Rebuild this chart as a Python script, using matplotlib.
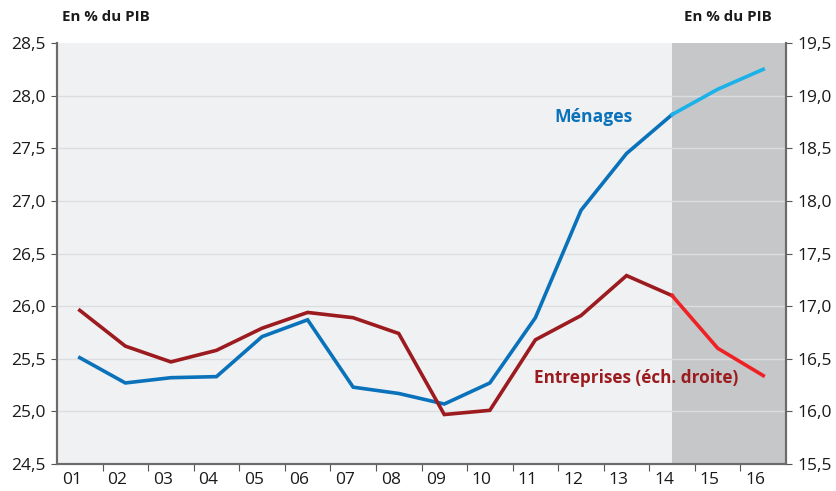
import matplotlib.pyplot as plt
import matplotlib.transforms as mtransforms
from matplotlib.ticker import FuncFormatter, MultipleLocator

# Épargne en % du PIB, 2001-2016 (15 et 16 : prévisions)
years = ["01", "02", "03", "04", "05", "06", "07", "08",
         "09", "10", "11", "12", "13", "14", "15", "16"]
menages = [25.51, 25.27, 25.32, 25.33, 25.71, 25.87, 25.23, 25.17,
           25.07, 25.27, 25.89, 26.91, 27.45, 27.82, 28.06, 28.25]
entreprises = [16.96, 16.62, 16.47, 16.58, 16.79, 16.94, 16.89, 16.74,
               15.97, 16.01, 16.68, 16.91, 17.29, 17.10, 16.60, 16.34]
last_actual = 13  # index of "14", start of the forecast zone

plt.rcParams['font.family'] = ['Open Sans', 'DejaVu Sans']

fig = plt.figure(figsize=(8.36, 4.91), dpi=100)
ax = fig.add_axes([57 / 836, 1 - 464 / 491, 729 / 836, 421 / 491])
ax2 = ax.twinx()

x = [i + 0.5 for i in range(len(years))]

ax.set_facecolor('#f0f1f3')
ax.axvspan(x[last_actual], len(years), color='#c6c7c9', zorder=0, lw=0)
for v in [25.0, 25.5, 26.0, 26.5, 27.0, 27.5, 28.0]:
    ax.axhline(v, color='#dcdde0', lw=1, zorder=0.5)

k = last_actual
ax.plot(x[:k + 1], menages[:k + 1], color='#0a72ba', lw=2.6, zorder=3,
        solid_joinstyle='miter')
ax.plot(x[k:], menages[k:], color='#1bb1e9', lw=2.6, zorder=3)
ax2.plot(x[:k + 1], entreprises[:k + 1], color='#9b1b1f', lw=2.6, zorder=3,
         solid_joinstyle='miter')
ax2.plot(x[k:], entreprises[k:], color='#ee2224', lw=2.6, zorder=3)

ax.set_xlim(0, len(years))
ax.set_ylim(24.5, 28.5)
ax2.set_ylim(15.5, 19.5)

comma = FuncFormatter(lambda v, p: f"{v:.1f}".replace('.', ','))
for a in (ax, ax2):
    a.yaxis.set_major_locator(MultipleLocator(0.5))
    a.yaxis.set_major_formatter(comma)
    a.tick_params(axis='y', labelsize=12.5, length=4, color='#555555',
                  labelcolor='#1a1a1a', pad=4)
    a.spines['top'].set_visible(False)
    for s in ['left', 'right', 'bottom']:
        a.spines[s].set_color('#6b6b6b')
        a.spines[s].set_linewidth(1.5)

# year boundaries as ticks, labels centred on each year (a bit to the left)
ax.set_xticks(range(1, len(years)))
ax.set_xticklabels([])
ax.tick_params(axis='x', which='major', length=5, color='#555555')
ax.set_xticks(x, minor=True)
ax.set_xticklabels(years, minor=True)
ax.tick_params(axis='x', which='minor', length=0, labelsize=12.5,
               labelcolor='#1a1a1a', pad=6)
shift = mtransforms.ScaledTranslation(-8 / 100, 0, fig.dpi_scale_trans)
for lbl in ax.get_xticklabels(minor=True):
    lbl.set_transform(lbl.get_transform() + shift)

fig.text(62 / 836, 1 - 17 / 491, "En % du PIB", fontsize=10.8,
         fontweight='bold', va='center', ha='left', color='#1a1a1a')
fig.text(772 / 836, 1 - 17 / 491, "En % du PIB", fontsize=10.8,
         fontweight='bold', va='center', ha='right', color='#1a1a1a')

fig.text(636 / 836, 1 - 378 / 491, "Entreprises (éch. droite)", fontsize=12.3,
         fontweight='bold', color='#9b1b1f', ha='center', va='center')
fig.text(593 / 836, 1 - 117 / 491, "Ménages", fontsize=12.6,
         fontweight='bold', color='#0a72ba', ha='center', va='center')

fig.savefig('out.png', dpi=100)
